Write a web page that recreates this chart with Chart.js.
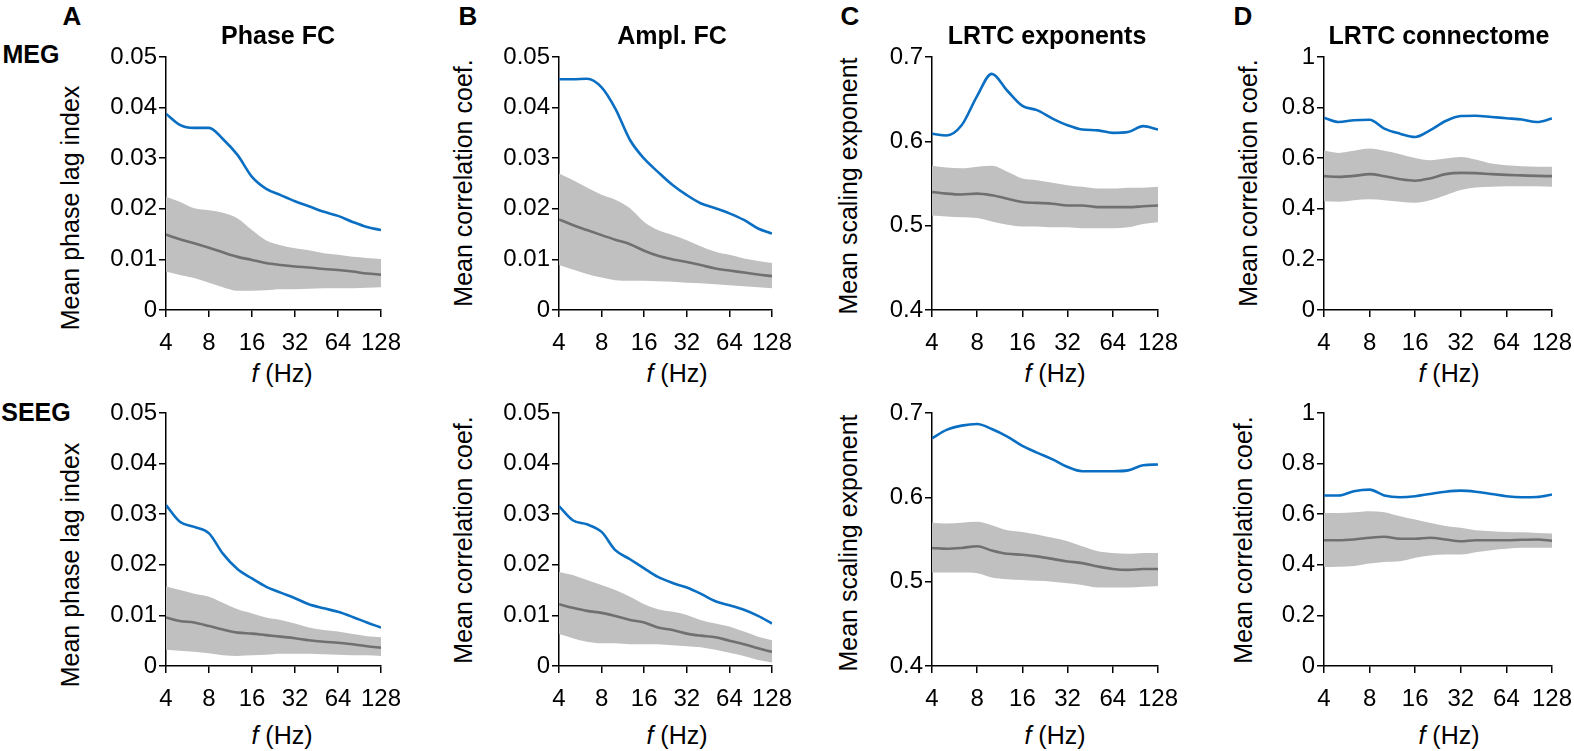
<!DOCTYPE html>
<html>
<head>
<meta charset="utf-8">
<script src="https://cdn.jsdelivr.net/npm/chart.js@4.4.1/dist/chart.umd.min.js"></script>
<style>
body { margin: 0; background: #fff; }
#fig { position: relative; width: 1574px; height: 751px; overflow: hidden; font-family: 'Liberation Sans', Arial, sans-serif; color: #000; }
#fig canvas { position: absolute; }
.lbl { position: absolute; transform: translate(-50%, -50%); white-space: nowrap; line-height: 1; font-size: 25px; }
.bold { font-weight: bold; }
.big { font-size: 26px; }
.rot { transform: translate(-50%, -50%) rotate(-90deg); }
</style>
</head>
<body>
<div id="fig"></div>
<script>
// frequencies (Hz), 1/3 octave steps
const freqs = [4, 5, 6.3, 8, 10, 12.7, 16, 20, 25.4, 32, 40, 51, 64, 81, 102, 128];

const xTicks = [4, 8, 16, 32, 64, 128];
const ticksFC = [0, 0.01, 0.02, 0.03, 0.04, 0.05];
const ticksExp = [0.4, 0.5, 0.6, 0.7];
const ticksConn = [0, 0.2, 0.4, 0.6, 0.8, 1];

// MEG - phase FC
const megPhaseObs  = [0.0388, 0.0366, 0.036, 0.036, 0.0338, 0.0306, 0.0263, 0.024, 0.0227, 0.0215, 0.0205, 0.0194, 0.0186, 0.0174, 0.0164, 0.0158];
const megPhaseMean = [0.0149, 0.014, 0.0132, 0.0123, 0.0114, 0.0105, 0.0099, 0.0093, 0.0089, 0.0086, 0.0084, 0.0081, 0.0079, 0.0076, 0.0072, 0.007];
const megPhaseHi   = [0.0224, 0.0214, 0.0201, 0.0197, 0.0192, 0.0181, 0.0158, 0.0138, 0.0128, 0.0122, 0.0118, 0.0112, 0.0109, 0.0105, 0.0103, 0.0101];
const megPhaseLo   = [0.0076, 0.0069, 0.0063, 0.0054, 0.0045, 0.0038, 0.0038, 0.0039, 0.0041, 0.0041, 0.0042, 0.0043, 0.0043, 0.0043, 0.0044, 0.0045];

// MEG - amplitude FC
const megAmplObs  = [0.0456, 0.0456, 0.0457, 0.044, 0.0398, 0.0336, 0.0299, 0.0273, 0.0247, 0.0227, 0.0211, 0.0201, 0.0191, 0.0178, 0.0161, 0.0151];
const megAmplMean = [0.0179, 0.0168, 0.0158, 0.0148, 0.0139, 0.013, 0.0117, 0.0107, 0.01, 0.0095, 0.0089, 0.0082, 0.0078, 0.0074, 0.007, 0.0067];
const megAmplHi   = [0.027, 0.0257, 0.0242, 0.0228, 0.0218, 0.0201, 0.0174, 0.0158, 0.0148, 0.0138, 0.0126, 0.0115, 0.0109, 0.0102, 0.0097, 0.0093];
const megAmplLo   = [0.0089, 0.008, 0.0071, 0.0064, 0.0059, 0.0058, 0.0058, 0.0057, 0.0056, 0.0054, 0.0053, 0.0051, 0.0049, 0.0047, 0.0045, 0.0043];

// MEG - LRTC exponents
const megExpObs  = [0.609, 0.607, 0.619, 0.654, 0.680, 0.660, 0.642, 0.637, 0.627, 0.619, 0.614, 0.613, 0.610, 0.611, 0.618, 0.614];
const megExpMean = [0.540, 0.538, 0.537, 0.538, 0.536, 0.532, 0.528, 0.527, 0.526, 0.524, 0.524, 0.522, 0.522, 0.522, 0.523, 0.524];
const megExpHi   = [0.571, 0.569, 0.568, 0.570, 0.571, 0.564, 0.556, 0.554, 0.551, 0.548, 0.546, 0.544, 0.544, 0.545, 0.545, 0.546];
const megExpLo   = [0.512, 0.511, 0.510, 0.509, 0.505, 0.501, 0.499, 0.499, 0.498, 0.498, 0.497, 0.497, 0.497, 0.498, 0.502, 0.504];

// MEG - LRTC connectome
const megConnObs  = [0.760, 0.743, 0.750, 0.752, 0.717, 0.697, 0.684, 0.710, 0.747, 0.767, 0.768, 0.763, 0.758, 0.753, 0.743, 0.757];
const megConnMean = [0.529, 0.526, 0.530, 0.537, 0.529, 0.517, 0.511, 0.520, 0.537, 0.542, 0.541, 0.537, 0.534, 0.532, 0.530, 0.529];
const megConnHi   = [0.629, 0.621, 0.629, 0.638, 0.629, 0.616, 0.601, 0.592, 0.599, 0.605, 0.595, 0.579, 0.572, 0.568, 0.566, 0.566];
const megConnLo   = [0.430, 0.428, 0.434, 0.438, 0.434, 0.428, 0.424, 0.434, 0.454, 0.474, 0.484, 0.487, 0.489, 0.489, 0.489, 0.487];

// SEEG - phase FC
const seegPhaseObs  = [0.0318, 0.0285, 0.0275, 0.0262, 0.0222, 0.0191, 0.0173, 0.0157, 0.0145, 0.0134, 0.0122, 0.0114, 0.0107, 0.0097, 0.0086, 0.0076];
const seegPhaseMean = [0.0096, 0.0089, 0.0086, 0.0079, 0.0072, 0.0066, 0.0064, 0.0061, 0.0058, 0.0055, 0.0051, 0.0048, 0.0046, 0.0043, 0.0039, 0.0036];
const seegPhaseHi   = [0.0157, 0.015, 0.0143, 0.0137, 0.0125, 0.0112, 0.0104, 0.0096, 0.0091, 0.0084, 0.0076, 0.0071, 0.0068, 0.0063, 0.0059, 0.0057];
const seegPhaseLo   = [0.0032, 0.003, 0.0028, 0.0025, 0.0021, 0.002, 0.0021, 0.0022, 0.0024, 0.0024, 0.0024, 0.0023, 0.0022, 0.0021, 0.0021, 0.002];

// SEEG - amplitude FC
const seegAmplObs  = [0.0316, 0.0288, 0.028, 0.0265, 0.0229, 0.0211, 0.0193, 0.0176, 0.0164, 0.0155, 0.0143, 0.0128, 0.012, 0.0111, 0.0099, 0.0084];
const seegAmplMean = [0.0122, 0.0115, 0.0109, 0.0105, 0.0099, 0.0091, 0.0086, 0.0076, 0.0071, 0.0064, 0.006, 0.0057, 0.005, 0.0043, 0.0035, 0.0028];
const seegAmplHi   = [0.0186, 0.018, 0.017, 0.016, 0.015, 0.0137, 0.0122, 0.0112, 0.0107, 0.0101, 0.0091, 0.0084, 0.0078, 0.0068, 0.0058, 0.0051];
const seegAmplLo   = [0.0063, 0.0055, 0.0048, 0.0045, 0.0045, 0.0043, 0.0043, 0.0043, 0.0041, 0.0039, 0.0037, 0.0032, 0.0026, 0.002, 0.0012, 0.0007];

// SEEG - LRTC exponents
const seegExpObs  = [0.670, 0.680, 0.685, 0.687, 0.681, 0.672, 0.661, 0.653, 0.645, 0.636, 0.631, 0.631, 0.631, 0.632, 0.638, 0.639];
const seegExpMean = [0.540, 0.539, 0.540, 0.542, 0.537, 0.533, 0.532, 0.530, 0.527, 0.524, 0.522, 0.518, 0.515, 0.514, 0.515, 0.515];
const seegExpHi   = [0.570, 0.569, 0.570, 0.571, 0.567, 0.561, 0.559, 0.556, 0.552, 0.548, 0.542, 0.536, 0.534, 0.533, 0.534, 0.534];
const seegExpLo   = [0.511, 0.511, 0.511, 0.510, 0.505, 0.503, 0.502, 0.501, 0.500, 0.498, 0.496, 0.493, 0.493, 0.493, 0.494, 0.495];

// SEEG - LRTC connectome
const seegConnObs  = [0.674, 0.674, 0.691, 0.697, 0.674, 0.667, 0.671, 0.680, 0.689, 0.693, 0.689, 0.680, 0.671, 0.667, 0.668, 0.678];
const seegConnMean = [0.497, 0.497, 0.500, 0.507, 0.511, 0.503, 0.503, 0.507, 0.500, 0.493, 0.497, 0.497, 0.497, 0.499, 0.500, 0.495];
const seegConnHi   = [0.605, 0.605, 0.608, 0.612, 0.608, 0.592, 0.579, 0.566, 0.553, 0.546, 0.537, 0.533, 0.530, 0.529, 0.526, 0.524];
const seegConnLo   = [0.391, 0.392, 0.395, 0.405, 0.411, 0.414, 0.428, 0.437, 0.441, 0.441, 0.450, 0.458, 0.463, 0.467, 0.467, 0.467];

// plot area boxes in page pixels
const cols = [{left: 166, right: 381}, {left: 559, right: 772}, {left: 932, right: 1158}, {left: 1324, right: 1552}];
const rows = [{top: 57, bottom: 310}, {top: 413, bottom: 666}];

const panels = [
  {row: 0, col: 0, obs: megPhaseObs, mean: megPhaseMean, hi: megPhaseHi, lo: megPhaseLo, yTicks: ticksFC},
  {row: 0, col: 1, obs: megAmplObs, mean: megAmplMean, hi: megAmplHi, lo: megAmplLo, yTicks: ticksFC},
  {row: 0, col: 2, obs: megExpObs, mean: megExpMean, hi: megExpHi, lo: megExpLo, yTicks: ticksExp},
  {row: 0, col: 3, obs: megConnObs, mean: megConnMean, hi: megConnHi, lo: megConnLo, yTicks: ticksConn},
  {row: 1, col: 0, obs: seegPhaseObs, mean: seegPhaseMean, hi: seegPhaseHi, lo: seegPhaseLo, yTicks: ticksFC},
  {row: 1, col: 1, obs: seegAmplObs, mean: seegAmplMean, hi: seegAmplHi, lo: seegAmplLo, yTicks: ticksFC},
  {row: 1, col: 2, obs: seegExpObs, mean: seegExpMean, hi: seegExpHi, lo: seegExpLo, yTicks: ticksExp},
  {row: 1, col: 3, obs: seegConnObs, mean: seegConnMean, hi: seegConnHi, lo: seegConnLo, yTicks: ticksConn}
];

Chart.defaults.font.family = "'Liberation Sans', Arial, sans-serif";
Chart.defaults.font.size = 24;
Chart.defaults.color = '#000';

const fig = document.getElementById('fig');

function addText(html, x, y, cls) {
  const d = document.createElement('div');
  d.className = 'lbl ' + (cls || '');
  d.style.left = x + 'px';
  d.style.top = y + 'px';
  d.innerHTML = html;
  fig.appendChild(d);
}

function points(ys) {
  return freqs.map((f, i) => ({x: f, y: ys[i]}));
}

function makePanel(p) {
  const box = Object.assign({}, cols[p.col], rows[p.row]);
  const padTop = 15, padRight = 26, yW = 60, xH = 45;
  const cv = document.createElement('canvas');
  cv.width = box.right - box.left + yW + padRight;
  cv.height = box.bottom - box.top + padTop + xH;
  cv.style.left = (box.left - yW) + 'px';
  cv.style.top = (box.top - padTop) + 'px';
  fig.appendChild(cv);

  new Chart(cv.getContext('2d'), {
    type: 'line',
    data: {
      datasets: [
        {data: points(p.obs), borderColor: '#0a6fc2', borderWidth: 2.6},
        {data: points(p.mean), borderColor: '#707070', borderWidth: 2.6},
        {data: points(p.hi), borderWidth: 0, borderColor: 'rgba(0,0,0,0)', backgroundColor: '#c0c0c0', fill: '+1'},
        {data: points(p.lo), borderWidth: 0, borderColor: 'rgba(0,0,0,0)', fill: false}
      ]
    },
    options: {
      responsive: false,
      animation: false,
      layout: {padding: {top: padTop, right: padRight, left: 0, bottom: 0}},
      elements: {point: {radius: 0}, line: {cubicInterpolationMode: 'monotone'}},
      plugins: {legend: {display: false}, tooltip: {enabled: false}},
      scales: {
        x: {
          type: 'logarithmic', min: 4, max: 128,
          afterBuildTicks: s => { s.ticks = xTicks.map(v => ({value: v})); },
          afterFit: s => { s.height = xH; s.paddingLeft = 0; s.paddingRight = 0; },
          ticks: {autoSkip: false, maxRotation: 0, padding: 12, callback: v => String(v)},
          grid: {drawOnChartArea: false, tickLength: 7, color: '#000', lineWidth: 1.5},
          border: {color: '#000', width: 1.5}
        },
        y: {
          min: p.yTicks[0], max: p.yTicks[p.yTicks.length - 1],
          afterBuildTicks: s => { s.ticks = p.yTicks.map(v => ({value: v})); },
          afterFit: s => { s.width = yW; s.paddingTop = 0; s.paddingBottom = 0; },
          ticks: {padding: 2, callback: v => String(+v.toFixed(2))},
          grid: {drawOnChartArea: false, tickLength: 7, color: '#000', lineWidth: 1.5},
          border: {color: '#000', width: 1.5}
        }
      }
    }
  });
}

panels.forEach(makePanel);

// panel letters, row names and titles
addText('A', 72, 16, 'bold big');
addText('B', 468, 16, 'bold big');
addText('C', 850, 16, 'bold big');
addText('D', 1243, 16, 'bold big');
addText('MEG', 31, 54, 'bold');
addText('SEEG', 36, 412, 'bold');
addText('Phase FC', 278, 35, 'bold');
addText('Ampl. FC', 672, 35, 'bold');
addText('LRTC exponents', 1047, 35, 'bold');
addText('LRTC connectome', 1439, 35, 'bold');

// y axis titles
const yTitles = ['Mean phase lag index', 'Mean correlation coef.', 'Mean scaling exponent', 'Mean correlation coef.'];
const yTitleX = [[70, 463, 848, 1248], [70, 463, 848, 1243]];
const yTitleY = [[208, 183, 186, 183], [565, 540, 543, 540]];
for (let r = 0; r < 2; r++) {
  for (let c = 0; c < 4; c++) {
    addText(yTitles[c], yTitleX[r][c], yTitleY[r][c], 'rot');
  }
}

// x axis titles
const xTitleX = [282, 677, 1055, 1449];
const xTitleY = [373, 735];
xTitleY.forEach(y => xTitleX.forEach(x => addText('<i>f</i> (Hz)', x, y)));
</script>
</body>
</html>
